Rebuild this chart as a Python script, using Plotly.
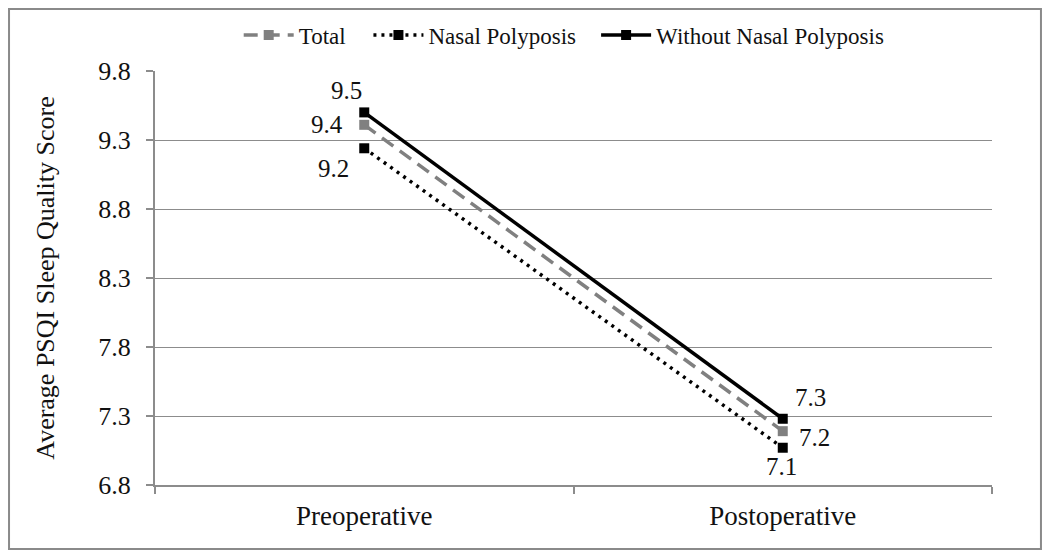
import plotly.graph_objects as go

categories = ["Preoperative", "Postoperative"]
series_names = ["Total", "Nasal Polyposis", "Without Nasal Polyposis"]
total_vals = [9.41, 7.19]
nasal_vals = [9.24, 7.07]
without_vals = [9.50, 7.28]
y_ticks = [6.8, 7.3, 7.8, 8.3, 8.8, 9.3, 9.8]

FONT = "Liberation Serif, Times New Roman, serif"
GRID = "#8c8c8c"

fig = go.Figure()
fig.add_trace(go.Scatter(
    x=categories, y=total_vals, name=series_names[0], mode="lines+markers",
    line=dict(color="#808080", width=3.5, dash="14px,8px"),
    marker=dict(symbol="square", size=10, color="#808080"), legend="legend",
))
fig.add_trace(go.Scatter(
    x=categories, y=nasal_vals, name=series_names[1], mode="lines+markers",
    line=dict(color="#000000", width=3.5, dash="3px,5px"),
    marker=dict(symbol="square", size=10, color="#000000"), legend="legend2",
))
fig.add_trace(go.Scatter(
    x=categories, y=without_vals, name=series_names[2], mode="lines+markers",
    line=dict(color="#000000", width=3.5),
    marker=dict(symbol="square", size=10, color="#000000"), legend="legend3",
))

# data labels (pixel offsets relative to points)
label_offsets = {
    ("Without", 0): (-18, 22), ("Total", 0): (-37, 0), ("Nasal", 0): (-31, -20),
    ("Without", 1): (28, 21), ("Total", 1): (32, -6), ("Nasal", 1): (-1, -19),
}
series_map = {"Without": without_vals, "Total": total_vals, "Nasal": nasal_vals}
for (key, i), (dx, dy) in label_offsets.items():
    v = series_map[key][i]
    fig.add_annotation(
        x=categories[i], y=v, text=f"{v:.1f}", showarrow=False,
        xshift=dx, yshift=dy, font=dict(family=FONT, size=25, color="#111111"),
    )

# outer frame
fig.add_shape(type="rect", xref="paper", yref="paper",
              x0=-0.1744, x1=1.0585, y0=-0.1546, y1=1.1498,
              line=dict(color="#8a8a8a", width=2), fillcolor="rgba(0,0,0,0)")

def leg(x):
    return dict(orientation="h", x=x, y=1.087, xanchor="left", yanchor="middle",
                font=dict(family=FONT, size=23, color="#111111"), itemwidth=50,
                bgcolor="rgba(0,0,0,0)", borderwidth=0)

fig.update_layout(
    width=1034, height=542,
    margin=dict(l=147, r=50, t=63, b=65, autoexpand=False),
    paper_bgcolor="white", plot_bgcolor="white",
    font=dict(family=FONT, size=23, color="#111111"),
    showlegend=True,
    legend=leg(0.1), legend2=leg(0.255), legend3=leg(0.527),
    xaxis=dict(
        type="category", range=[-0.5, 1.5], showgrid=False, showline=True,
        linecolor=GRID, linewidth=2, ticks="outside", tickson="boundaries",
        ticklen=7, tickcolor=GRID, tickwidth=2,
        tickfont=dict(family=FONT, size=27, color="#111111"),
        ticklabelstandoff=6,
    ),
    yaxis=dict(
        range=[6.8, 9.8], tickvals=y_ticks, ticktext=[f"{t:.1f}" for t in y_ticks],
        showgrid=True, gridcolor=GRID, gridwidth=1, showline=True, linecolor=GRID,
        linewidth=2, ticks="outside", ticklen=7, tickcolor=GRID, tickwidth=2,
        tickfont=dict(family=FONT, size=26, color="#111111"), zeroline=False,
        ticklabelstandoff=10,
        title=dict(text="Average PSQI Sleep Quality Score",
                   font=dict(family=FONT, size=26, color="#111111"), standoff=36),
    ),
)

fig.write_html("out.html")
